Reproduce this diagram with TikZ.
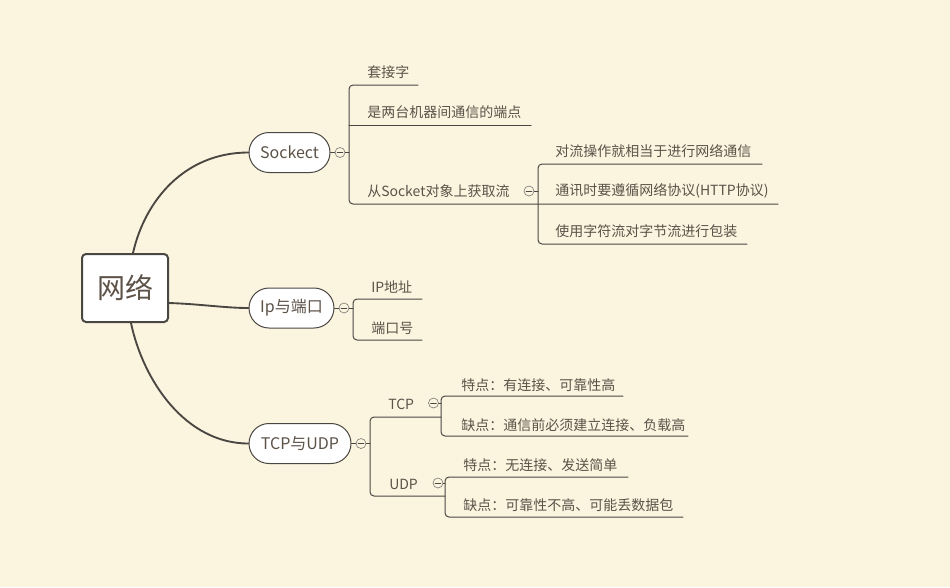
\documentclass[tikz,border=0pt]{standalone}
\usepackage{fontspec}
\setmainfont{Noto Sans CJK SC}
\usetikzlibrary{calc}
\definecolor{bgcol}{HTML}{FBF5E0}
\definecolor{linecol}{HTML}{4A4642}
\definecolor{txtcol}{HTML}{5C5248}
\tikzset{
  rootbox/.style={draw=linecol, line width=1.5pt, fill=white, rounded corners=3pt,
    minimum width=64.5pt, minimum height=51pt, inner sep=0pt, text=txtcol,
    font=\fontsize{21}{24}\selectfont},
  topic/.style={draw=linecol, line width=0.75pt, fill=white, rounded corners=15pt,
    minimum height=30pt, inner sep=0pt, text=txtcol, font=\fontsize{12}{14}\selectfont},
  leaf/.style={anchor=west, inner sep=0pt, text=txtcol, font=\fontsize{10.5}{12}\selectfont},
  fold/.style={circle, draw=linecol!70, fill=bgcol, minimum size=7.5pt, inner sep=0pt,
    line width=0.5pt,
    path picture={\draw[linecol, line width=0.45pt]
      ([xshift=-2.2pt]path picture bounding box.center) --
      ([xshift=2.2pt]path picture bounding box.center);}},
  branch/.style={draw=linecol, line width=0.75pt, rounded corners=3pt},
  trunk/.style={draw=linecol, line width=1.4pt}
}
\begin{document}
\begin{tikzpicture}[x=0.75pt, y=-0.75pt, line join=round, line cap=round]
\fill[bgcol] (0,0) rectangle (950,587);
\useasboundingbox (0,0) rectangle (950,587);
% main topics
\node[rootbox] (root) at (125,288) {网络};
\node[topic, minimum width=60.75pt] (sock) at (289.5,152.5) {Sockect};
\node[topic, minimum width=63.75pt] (ip) at (291.5,308) {Ip与端口};
\node[topic, minimum width=76.5pt] (tcp) at (300,443.5) {TCP与UDP};
\draw[trunk] ($(root.north)+(8,0)$) .. controls (145,200) and (185,152.5) .. (sock.west);
\draw[trunk] ($(root.east)+(0,15)$) .. controls (200,304) and (225,308) .. (ip.west);
\draw[trunk] ($(root.south)+(6,0)$) .. controls (143,380) and (185,443.5) .. (tcp.west);
% Sockect branch
\coordinate (S0) at (349,152.5);
\coordinate (Sa) at (349,85);  \coordinate (Sa') at (418,85);
\coordinate (Sb) at (349,125); \coordinate (Sb') at (531,125);
\coordinate (Sc) at (349,204);
\coordinate (T0) at (538,191);
\coordinate (Ta) at (538,164); \coordinate (Ta') at (762,164);
\coordinate (Tb') at (778,204);
\coordinate (Tc) at (538,244); \coordinate (Tc') at (747,244);
\node[fold] (f1) at (340,152.5) {};
\node[fold] (f2) at (529,191) {};
\draw[branch] (Sa') -- (Sa) -- (Sc) -- (Tb');
\draw[branch] (Sb) -- (Sb');
\draw[branch] (Ta') -- (Ta) -- (Tc) -- (Tc');
\draw[branch] (sock.east) -- (f1.west);
\draw[branch] (f1.east) -- (S0);
\draw[branch] (f2.east) -- (T0);
\node[leaf] (sa) at (367,72) {套接字};
\node[leaf] (sb) at (367,112) {是两台机器间通信的端点};
\node[leaf] (sc) at (367,191) {从Socket对象上获取流};
\node[leaf] (ta) at (555,151) {对流操作就相当于进行网络通信};
\node[leaf] (tb) at (555,191) {通讯时要遵循网络协议(HTTP协议)};
\node[leaf] (tc) at (555,231) {使用字符流对字节流进行包装};
% Ip branch
\coordinate (P0) at (353,308);
\coordinate (Pa) at (353,299); \coordinate (Pa') at (422,299);
\coordinate (Pb) at (353,340); \coordinate (Pb') at (422,340);
\node[fold] (f3) at (344,308) {};
\draw[branch] (Pa') -- (Pa) -- (Pb) -- (Pb');
\draw[branch] (ip.east) -- (f3.west);
\draw[branch] (f3.east) -- (P0);
\node[leaf] (pa) at (371,287) {IP地址};
\node[leaf] (pb) at (371,328) {端口号};
% TCP / UDP branch
\coordinate (U0) at (370,443.5);
\coordinate (Ua) at (370,417); \coordinate (Ua') at (441,417);
\coordinate (Ub) at (370,496); \coordinate (Ub') at (445,496);
\coordinate (V0) at (441,403);
\coordinate (Va) at (441,396); \coordinate (Va') at (623,396);
\coordinate (Vb) at (441,436); \coordinate (Vb') at (688,436);
\coordinate (W0) at (445,483);
\coordinate (Wa) at (445,477); \coordinate (Wa') at (628,477);
\coordinate (Wb) at (445,517); \coordinate (Wb') at (683,517);
\node[fold] (f4) at (361,443.5) {};
\node[fold] (f5) at (433.5,403) {};
\node[fold] (f6) at (438,483) {};
\draw[branch] (Ua') -- (Ua) -- (Ub) -- (Ub');
\draw[branch] (Va') -- (Va) -- (Vb) -- (Vb');
\draw[branch] (Wa') -- (Wa) -- (Wb) -- (Wb');
\draw[branch] (tcp.east) -- (f4.west);
\draw[branch] (f4.east) -- (U0);
\draw[branch] (f5.east) -- (V0);
\draw[branch] (f6.east) -- (W0);
\node[leaf] (ua) at (388,404) {TCP};
\node[leaf] (ub) at (389,484) {UDP};
\node[leaf] (va) at (461,385) {特点：有连接、可靠性高};
\node[leaf] (vb) at (461,425) {缺点：通信前必须建立连接、负载高};
\node[leaf] (wa) at (463,465) {特点：无连接、发送简单};
\node[leaf] (wb) at (463,505) {缺点：可靠性不高、可能丢数据包};
\end{tikzpicture}
\end{document}
